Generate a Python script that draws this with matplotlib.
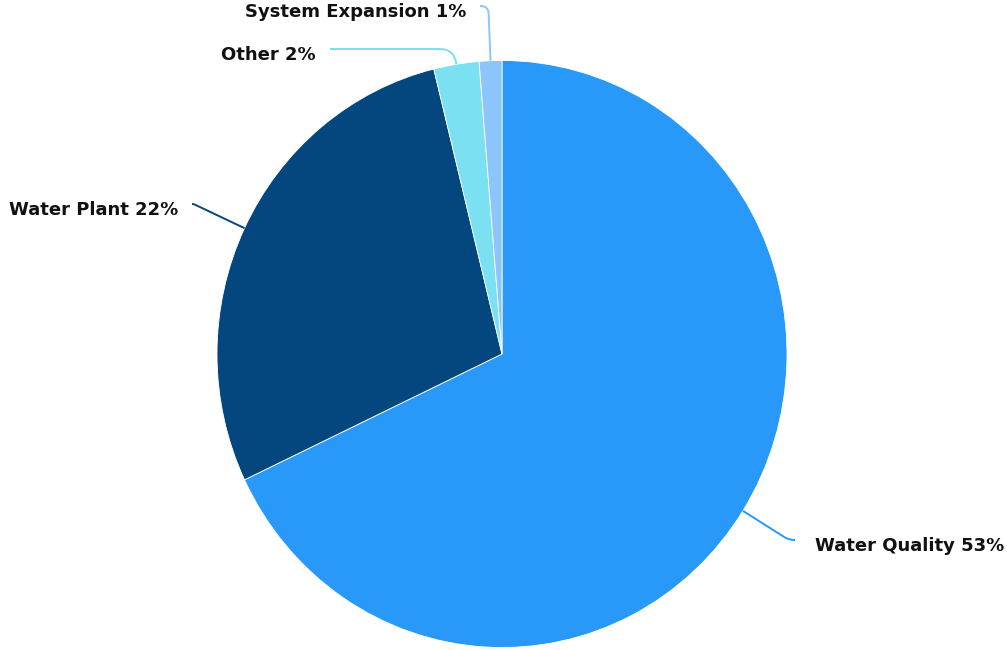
import matplotlib.pyplot as plt
import numpy as np
from matplotlib.path import Path
from matplotlib.patches import PathPatch

categories = ["Water Quality", "Water Plant", "Other", "System Expansion"]
values = [53, 22, 2, 1]
colors = ["#2999f9", "#04477f", "#7ae0f2", "#8cc5fb"]

# label anchor (x, y in pixels from top-left) and alignment
label_pos = [(815, 546, "left"), (178, 210, "right"), (316, 55, "right"), (466, 12, "right")]

W, H = 1007, 650
# pie centre and radii in pixels (slightly taller than wide)
PX, PY, RX, RY = 502, 354, 285, 293.5


def to_data(x, y):
    return (x - PX) / RX, (PY - y) / RY


fig = plt.figure(figsize=(W / 100, H / 100), dpi=100)
ax = fig.add_axes([0, 0, 1, 1])

wedges, _ = ax.pie(values, colors=colors, startangle=90, counterclock=False,
                   radius=1, frame=True,
                   wedgeprops=dict(edgecolor="white", linewidth=0.6))
x0, y0 = to_data(0, H)
x1, y1 = to_data(W, 0)
ax.set_xlim(x0, x1)
ax.set_ylim(y0, y1)
ax.set_aspect("auto")
ax.axis("off")

for w, name, v, (lx, ly, ha) in zip(wedges, categories, values, label_pos):
    mid = np.deg2rad((w.theta1 + w.theta2) / 2)
    dx, dy = np.cos(mid), -np.sin(mid)
    sx, sy = PX + RX * dx, PY + RY * dy
    ey = ly - 6
    ex = lx - 20 if ha == "left" else lx + 14
    # corner where the radial line meets the label's horizontal
    t = (ey - sy) / dy if abs(dy) > 1e-6 else 0
    kx = sx + t * dx
    lo, hi = sorted((sx, ex))
    kx = min(max(kx, lo), hi)
    # round the corner off
    d1 = np.hypot(kx - sx, ey - sy)
    d2 = abs(ex - kx)
    rc = min(14, 0.9 * d1, 0.9 * d2) if d2 > 1 else 0
    ax_ = kx - (kx - sx) / d1 * rc if d1 > 0 else kx
    ay_ = ey - (ey - sy) / d1 * rc if d1 > 0 else ey
    bx_ = kx + np.sign(ex - kx) * rc
    verts = [(sx, sy), (ax_, ay_), (kx, ey), (bx_, ey), (ex, ey)]
    codes = [Path.MOVETO, Path.LINETO, Path.CURVE3, Path.CURVE3, Path.LINETO]
    path = Path([to_data(*p) for p in verts], codes)
    ax.add_patch(PathPatch(path, facecolor="none", edgecolor=w.get_facecolor(), lw=1.4))
    tx, ty = to_data(lx, ly)
    ax.text(tx, ty, f"{name} {v}%", ha=ha, va="center", fontsize=13,
            fontweight="bold", family="DejaVu Sans", color="#111111")

fig.savefig("out.png", dpi=100)
